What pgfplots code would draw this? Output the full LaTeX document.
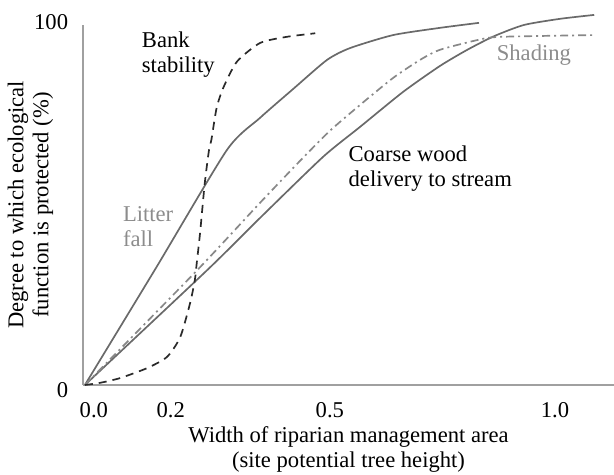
\documentclass[border=0pt]{standalone}
\usepackage{pgfplots}
\pgfplotsset{compat=1.18}
\usepackage{fontspec}
\setmainfont{Liberation Serif}
\definecolor{axgray}{HTML}{A0A0A0}
\definecolor{linegray}{HTML}{6A6A6A}
\definecolor{txtgray}{HTML}{8C8C8C}
\definecolor{dashblack}{HTML}{2A2A2A}
\definecolor{shadegray}{HTML}{888888}
\begin{document}
\fontsize{11.3}{12.5}\selectfont
\begin{tikzpicture}
\useasboundingbox (-41.5pt,-45pt) rectangle (265.5pt,192.5pt);
\begin{axis}[
  scale only axis, width=265.5pt, height=180pt,
  font=\fontsize{11.3}{12.5}\selectfont,
  xmin=0, xmax=1.125, ymin=0, ymax=100,
  axis x line=bottom, axis y line=left,
  axis line style={-, axgray, line width=0.6pt},
  clip=false,
  major tick length=0pt,
  xtick={0.023,0.186,0.523,1.0}, xticklabels={0.0,0.2,0.5,1.0},
  xticklabel style={yshift=-4.8pt},
  ytick={100}, yticklabels={100},
  yticklabel style={xshift=-3.5pt, yshift=1.5pt},
  extra y ticks={0}, extra y tick labels={0},
  extra y tick style={yticklabel style={yshift=-4pt}},
  xlabel={Width of riparian management area\\(site potential tree height)},
  xlabel style={at={(axis description cs:0.5,0)}, anchor=center, yshift=-32.25pt, align=center},
  ylabel={Degree to which ecological\\function is protected (\%)},
  ylabel style={at={(axis description cs:-0.099,0.5)}, anchor=center, align=center},
]
% Litter fall
\addplot[linegray, line width=0.85pt, smooth, tension=0.4] coordinates {
  (0.004,0) (0.155,32.6) (0.305,65.3) (0.375,74.2)
  (0.445,82.2) (0.517,90.3) (0.566,93.6) (0.657,97.2) (0.756,99.2) (0.839,100.6)};
% Coarse wood delivery
\addplot[linegray, line width=0.85pt, smooth, tension=0.4] coordinates {
  (0.004,0) (0.263,31.9) (0.375,46.4) (0.508,63.3) (0.587,71.7) (0.678,81.4)
  (0.756,88.6) (0.814,93.1) (0.871,96.9) (0.934,100.0) (1.010,101.7) (1.083,102.8)};
% Shading
\addplot[shadegray, line width=0.85pt, smooth, tension=0.4,
  dash pattern=on 4pt off 2pt on 1pt off 2pt] coordinates {
  (0.004,0) (0.242,31.9) (0.375,50.6) (0.466,63.1) (0.523,70.6) (0.587,77.8)
  (0.657,85.3) (0.714,90.3) (0.756,93.1) (0.835,95.8) (0.883,96.7) (1.083,97.2)};
% Bank stability
\addplot[dashblack, line width=0.85pt, smooth, tension=0.4,
  dash pattern=on 4pt off 3pt] coordinates {
  (0.004,0) (0.036,0.6) (0.078,1.9) (0.136,4.7) (0.178,7.8) (0.206,13.3)
  (0.227,22.8) (0.237,29.2) (0.241,33.9) (0.248,42.2) (0.258,56.1) (0.267,65.3)
  (0.272,68.1) (0.283,76.9) (0.297,82.5) (0.326,89.8) (0.375,95.0) (0.431,96.7) (0.492,97.7)};
\node[anchor=west, align=left, inner sep=0pt] at (axis cs:0.124,91.7) {Bank\\stability};
\node[anchor=west, align=left, inner sep=0pt, text=txtgray] at (axis cs:0.084,43.9) {Litter\\fall};
\node[anchor=west, inner sep=0pt, text=txtgray] at (axis cs:0.876,91.7) {Shading};
\node[anchor=west, align=left, inner sep=0pt] at (axis cs:0.562,60.0) {Coarse wood\\delivery to stream};
\end{axis}
\end{tikzpicture}
\end{document}
